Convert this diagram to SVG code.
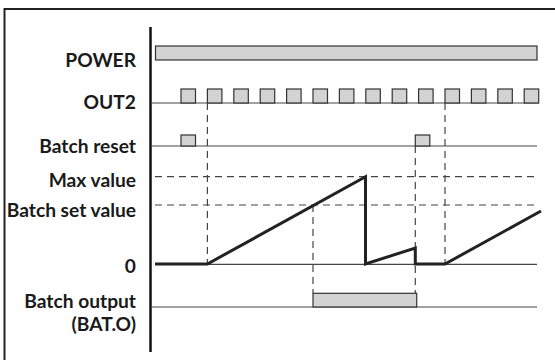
<svg xmlns="http://www.w3.org/2000/svg" width="555" height="360" viewBox="0 0 555 360">
<style>
.lbl{font-family:Lato,"Liberation Sans",sans-serif;font-weight:bold;font-size:19.2px;fill:#1a1a1a;text-anchor:end}
.base{stroke:#444;stroke-width:1.2;fill:none}
.dash{stroke:#444;stroke-width:1.2;stroke-dasharray:7 5;fill:none}
.pulse{fill:#d3d3d3;stroke:#333;stroke-width:1.2}
.sig{stroke:#222;stroke-width:3;fill:none;stroke-linejoin:miter}
</style>
<defs>
<rect id="p" class="pulse" width="14.5" height="14"/>
</defs>
<rect width="555" height="360" fill="#fff"/>
<rect x="4.5" y="9" width="560" height="370" fill="none" stroke="#222" stroke-width="2"/>
<line x1="150.5" y1="27" x2="150.5" y2="352" stroke="#111" stroke-width="2.5"/>
<g id="labels">
<text class="lbl" x="136" y="66.5">POWER</text>
<text class="lbl" x="136" y="109.3">OUT2</text>
<text class="lbl" x="136" y="153.3">Batch reset</text>
<text class="lbl" x="136" y="186.5">Max value</text>
<text class="lbl" x="136" y="217.3">Batch set value</text>
<text class="lbl" x="136" y="273">0</text>
<text class="lbl" x="136" y="307.5">Batch output</text>
<text class="lbl" x="136" y="331">(BAT.O)</text>
</g>
<g id="power">
<rect class="pulse" x="155.5" y="46" width="381.5" height="14"/>
</g>
<g id="out2">
<line class="base" x1="151" y1="103" x2="538.5" y2="103"/>
<use href="#p" x="181" y="89"/>
<use href="#p" x="207.4" y="89"/>
<use href="#p" x="233.8" y="89"/>
<use href="#p" x="260.2" y="89"/>
<use href="#p" x="286.6" y="89"/>
<use href="#p" x="313" y="89"/>
<use href="#p" x="339.4" y="89"/>
<use href="#p" x="365.8" y="89"/>
<use href="#p" x="392.2" y="89"/>
<use href="#p" x="418.6" y="89"/>
<use href="#p" x="445" y="89"/>
<use href="#p" x="471.4" y="89"/>
<use href="#p" x="497.8" y="89"/>
<use href="#p" x="524.2" y="89"/>
</g>
<g id="batch-reset">
<line class="base" x1="151" y1="146" x2="537" y2="146"/>
<rect class="pulse" x="181" y="135" width="14.5" height="11"/>
<rect class="pulse" x="415.3" y="135" width="14.5" height="11"/>
</g>
<g id="batch-output">
<line class="base" x1="151" y1="307" x2="537" y2="307"/>
<rect class="pulse" x="313" y="293.3" width="103.7" height="13.7"/>
</g>
<g id="connectors">
<line class="dash" x1="155" y1="176.7" x2="537" y2="176.7"/>
<line class="dash" x1="155" y1="205" x2="537" y2="205"/>
<line class="base" x1="155" y1="264.3" x2="537" y2="264.3"/>
<line class="dash" x1="207.4" y1="103" x2="207.4" y2="264"/>
<line class="dash" x1="445" y1="103" x2="445" y2="264"/>
<line class="dash" x1="313" y1="205" x2="313" y2="293"/>
<line class="dash" x1="415.3" y1="146" x2="415.3" y2="293"/>
</g>
<g id="count">
<polyline class="sig" points="155,264 207.4,264 365.5,176.7 365.5,264 415.3,248 415.3,264 445,264 541,211"/>
</g>
</svg>
